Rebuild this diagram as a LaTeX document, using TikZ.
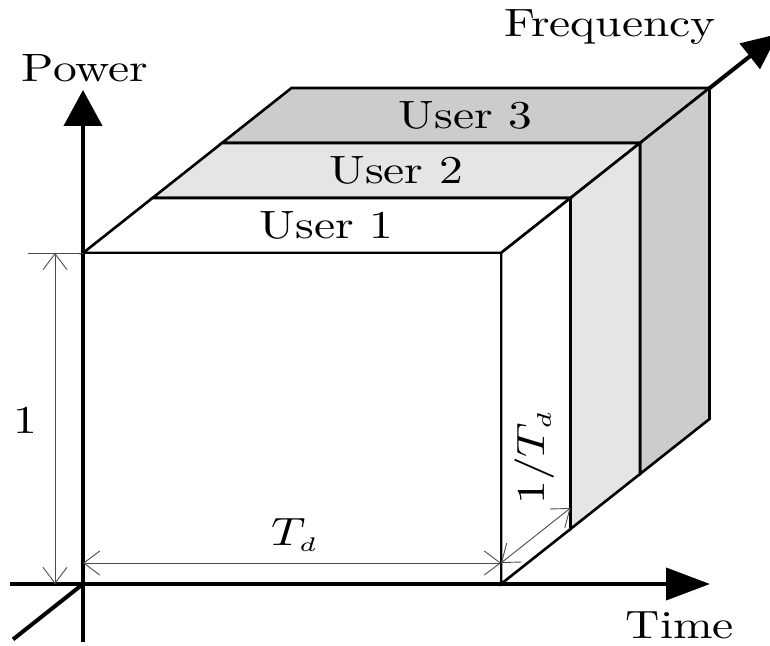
\documentclass[tikz,border=0pt]{standalone}
\usetikzlibrary{arrows.meta,calc}
\newcommand{\bigtxt}[1]{\scalebox{4.75}[3.95]{#1}}
\begin{document}
\begin{tikzpicture}[x=1pt,y=1pt,
  edge/.style={line width=2.6pt,line join=miter},
  axis/.style={line width=4pt},
  dimline/.style={line width=0.9pt,draw=black!70},
  dimtip/.style={{Straight Barb[length=16pt,width=24pt,line width=0.9pt]}-{Straight Barb[length=16pt,width=24pt,line width=0.9pt]}},
  lbl/.style={font=\normalsize,inner sep=0pt},
  face1/.style={fill=white,edge},
  face2/.style={fill=black!10,edge},
  face3/.style={fill=black!20,edge}]
\useasboundingbox (0,0) rectangle (770,645);
% base points
\coordinate (O) at (83,61);
\coordinate (B) at (501,61);
\coordinate (C) at (501,392);
\coordinate (D) at (83,392);
\coordinate (v) at (69.5,55);
\coordinate (fs) at ($(O)-1.007*(v)$);
\coordinate (fe) at ($(O)+10.0*(v)$);
\coordinate (ps) at (83,3);
\coordinate (pe) at (83,555);
\coordinate (ts) at (10,61);
\coordinate (te) at (710,61);
% frequency axis (under the block)
\draw[axis,-{Triangle[length=36pt,width=32pt]}] (fs) -- (fe);
% slabs
\foreach \k/\st in {3/face3,2/face2,1/face1}{
  \pgfmathsetmacro{\a}{\k-1}
  \draw[\st] ($(D)+\a*(v)$) -- ($(C)+\a*(v)$) -- ($(C)+\k*(v)$) -- ($(D)+\k*(v)$) -- cycle;
  \draw[\st] ($(B)+\a*(v)$) -- ($(B)+\k*(v)$) -- ($(C)+\k*(v)$) -- ($(C)+\a*(v)$) -- cycle;
}
% front face
\draw[face1] (O) -- (B) -- (C) -- (D) -- cycle;
% axes
\draw[axis,-{Triangle[length=36pt,width=38pt]}] (ps) -- (pe);
\draw[axis,-{Triangle[length=44pt,width=32pt]}] (ts) -- (te);
% dimension lines
\coordinate (e1) at (28,392);
\draw[dimline] (e1) -- (D);
\coordinate (d1a) at (55,392);
\coordinate (d1b) at (55,61);
\draw[dimline,dimtip] (d1a) -- (d1b);
\coordinate (d2a) at (83,82);
\coordinate (d2b) at (501,82);
\draw[dimline,dimtip] (d2a) -- (d2b);
\coordinate (d3b) at ($(d2b)+(v)$);
\draw[dimline,dimtip] (d2b) -- (d3b);
% labels
\node[lbl] (lp) at (85,577) {\bigtxt{Power}};
\node[lbl] (lf) at (610,618) {\bigtxt{Frequency}};
\node[lbl] (lt) at (680,20) {\bigtxt{Time}};
\node[lbl] (l1) at (25,225) {\bigtxt{1}};
\node[lbl] (ltd) at (295,110) {\bigtxt{$T_{\scriptscriptstyle d}$}};
\node[lbl,rotate=90] (ltd2) at (535,188) {\bigtxt{$1/T_{\scriptscriptstyle d}$}};
\node[lbl] (u1) at ($(D)!0.5!(C)+0.5*(v)$) {\bigtxt{User 1}};
\node[lbl] (u2) at ($(D)!0.5!(C)+1.5*(v)$) {\bigtxt{User 2}};
\node[lbl] (u3) at ($(D)!0.5!(C)+2.5*(v)$) {\bigtxt{User 3}};
\end{tikzpicture}
\end{document}
